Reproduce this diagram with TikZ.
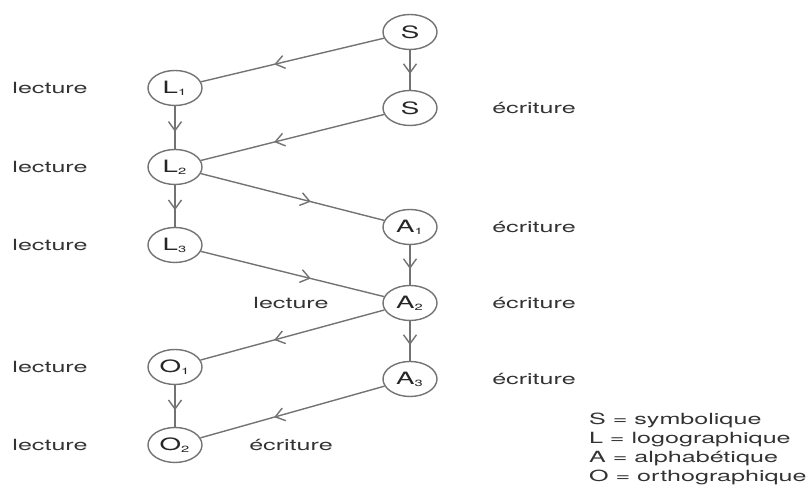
\documentclass[tikz,border=0pt]{standalone}
\usepackage{fontspec}
\setmainfont{TeX Gyre Heros}[FakeStretch=1.63]
\usetikzlibrary{shapes.geometric,arrows.meta,decorations.markings}
\newcommand{\idx}[1]{\textsubscript{\fontsize{4.5}{5}\selectfont #1}}

\begin{document}
\begin{tikzpicture}[x = 0.5pt, y = -0.5pt, font = \fontsize{7.7}{10}\selectfont,
    stade/.style = {shape = ellipse, draw = black!55, line width = 0.7pt, minimum width = 27pt, minimum height = 17.5pt, inner sep = 0pt, text = black!85, font = \fontsize{8.5}{10}\selectfont},
    lbl/.style = {text = black!80},
    fl/.style = {draw = black!55, line width = 0.7pt, postaction = {decorate},
        decoration = {markings, mark = at position 0.6 with {\arrow{Straight Barb[length = 4.5pt, width = 6.5pt]}}}}]
    \useasboundingbox (0,0) rectangle (809,490);
    % stades
    \node[stade] (S1) at (410,32) {S};
    \node[stade] (S2) at (410,108) {S};
    \node[stade] (L1) at (175,88) {L\idx{1}};
    \node[stade] (L2) at (175,167) {L\idx{2}};
    \node[stade] (L3) at (175,245) {L\idx{3}};
    \node[stade] (A1) at (410,227) {A\idx{1}};
    \node[stade] (A2) at (410,303) {A\idx{2}};
    \node[stade] (A3) at (410,379) {A\idx{3}};
    \node[stade] (O1) at (175,367) {O\idx{1}};
    \node[stade] (O2) at (175,445) {O\idx{2}};
    % lecture / ecriture
    \foreach \y [count = \i] in {88,167,245,367,445}
        \node[lbl] (lec\i) at (50,\y) {lecture};
    \foreach \y [count = \i] in {108,227,303,379}
        \node[lbl] (ecr\i) at (534,\y) {écriture};
    \node[lbl] (lecA) at (291,303) {lecture};
    \node[lbl] (ecrO) at (291,445) {écriture};
    % passages
    \draw[fl] (S1) -- (L1);
    \draw[fl] (S1) -- (S2);
    \draw[fl] (S2) -- (L2);
    \draw[fl] (L1) -- (L2);
    \draw[fl] (L2) -- (L3);
    \draw[fl] (L2) -- (A1);
    \draw[fl] (A1) -- (A2);
    \draw[fl] (L3) -- (A2);
    \draw[fl] (A2) -- (O1);
    \draw[fl] (A2) -- (A3);
    \draw[fl] (O1) -- (O2);
    \draw[fl] (A3) -- (O2);
    % legende
    \foreach \t [count = \i] in {S = symbolique, L = logographique, A = alphabétique, O = orthographique}
        \node[lbl, anchor = base west] (leg\i) at (582,406+19*\i) {\t};
\end{tikzpicture}
\end{document}
